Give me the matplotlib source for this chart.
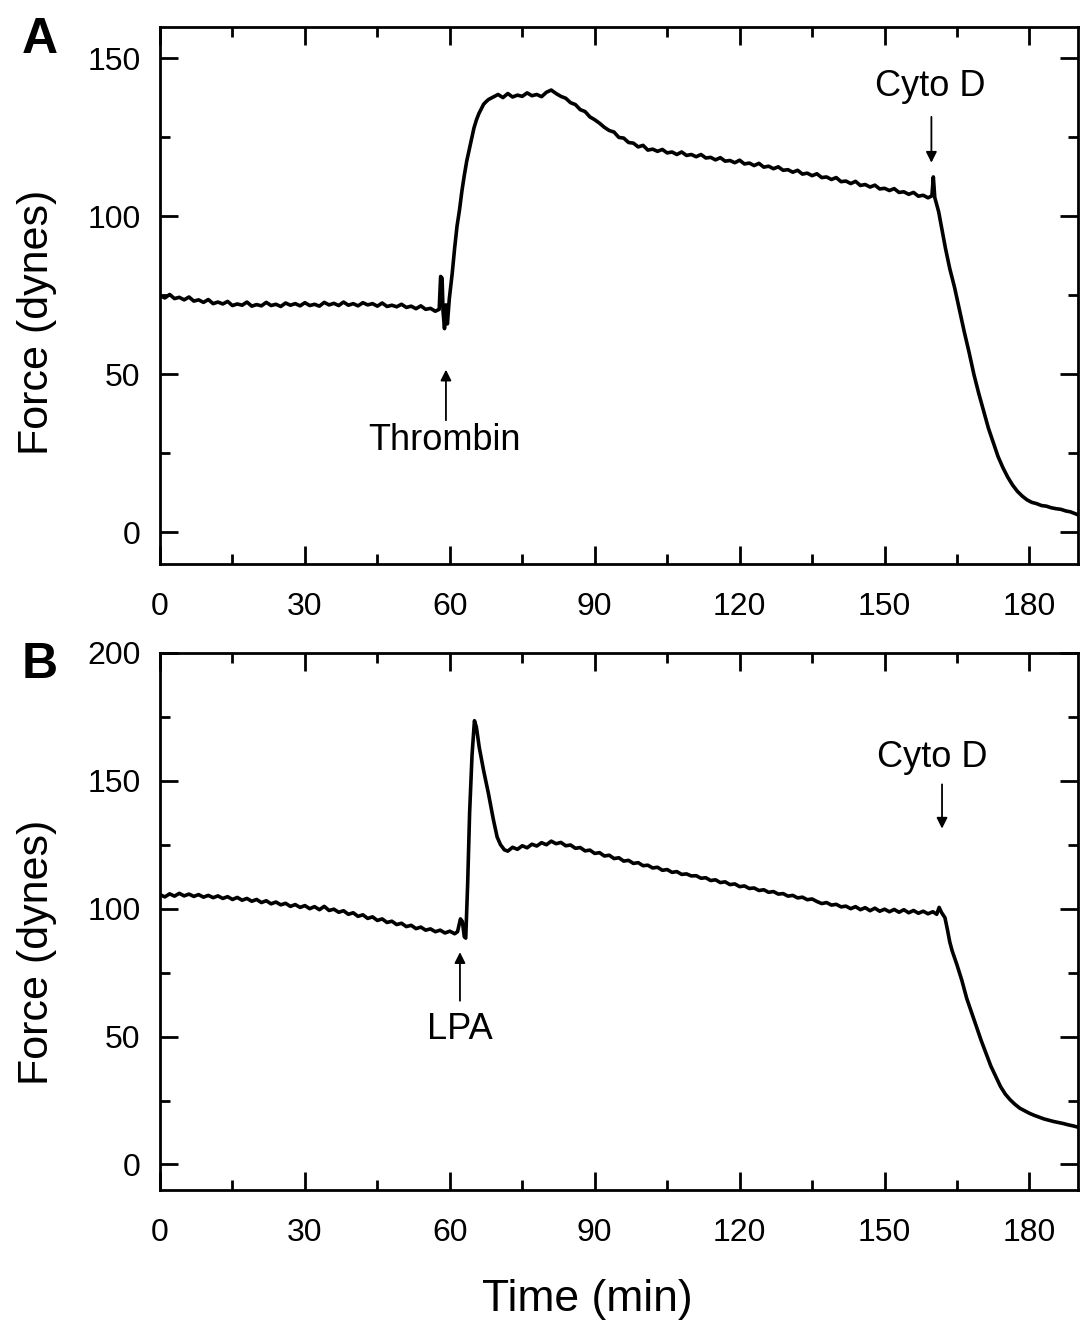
import matplotlib
matplotlib.use("Agg")
import matplotlib.pyplot as plt
from matplotlib.ticker import MultipleLocator

plt.rcParams['font.family'] = ['Liberation Sans', 'DejaVu Sans']

# panel A: thrombin, then cytochalasin D
tA = [0, 1, 2, 3, 4, 5, 6, 7, 8, 9, 10, 11, 12, 13, 14, 15, 16, 17, 18, 19,
      20, 21, 22, 23, 24, 25, 26, 27, 28, 29, 30, 31, 32, 33, 34, 35, 36, 37, 38, 39,
      40, 41, 42, 43, 44, 45, 46, 47, 48, 49, 50, 51, 52, 53, 54, 55, 56, 57,
      57.8, 58.1, 58.4, 58.6, 58.9, 59.2, 59.5, 59.9, 60.5, 61.0, 61.5, 62.0, 62.5,
      63.0, 63.5, 64.0, 64.5, 65.0, 65.5, 66.0, 66.5, 67.0, 67.5, 68.0,
      69, 70, 71, 72, 73, 74, 75, 76, 77, 78, 79, 80, 81, 82, 83, 84, 85, 86, 87, 88,
      89, 90, 91, 92, 93, 94, 95, 96, 97, 98, 99, 100, 101, 102, 103, 104, 105, 106,
      107, 108, 109, 110, 111, 112, 113, 114, 115, 116, 117, 118, 119, 120, 121, 122,
      123, 124, 125, 126, 127, 128, 129, 130, 131, 132, 133, 134, 135, 136, 137, 138,
      139, 140, 141, 142, 143, 144, 145, 146, 147, 148, 149, 150, 151, 152, 153, 154,
      155, 156, 157, 158, 159, 159.8, 160.1, 160.4, 161.2, 162, 162.6, 163.5, 164.5,
      165.5, 166.5, 167.5, 168.5, 169.5, 170.5, 171.5, 172.5, 173.5, 174.5, 175.5,
      176.5, 177.5, 178.5, 179.5, 180.5, 181.5, 182.5, 183.5, 184.5, 185.5, 186.5,
      187.5, 188.5, 189.5, 190]
fA = [75.0, 74.2, 75.3, 74.0, 74.4, 73.6, 74.5, 73.2, 73.6, 72.8, 73.7, 72.4, 72.9,
      72.3, 73.1, 71.8, 72.3, 71.9, 72.9, 71.6, 72.1, 71.7, 72.8, 71.8, 72.2, 71.5,
      72.6, 71.9, 72.4, 71.7, 72.7, 71.8, 72.2, 71.6, 72.8, 72.0, 72.5, 71.8, 72.9,
      71.9, 72.4, 71.7, 72.7, 72.0, 72.4, 71.6, 72.6, 71.5, 71.9, 71.4, 72.2, 71.2,
      71.6, 70.8, 71.7, 70.6, 70.9, 70.0,
      70.6, 81.0, 80.5, 70.0, 64.5, 72.0, 66.0, 74.0, 82, 90, 97, 102, 108,
      113, 117.5, 121, 124.5, 128, 130.5, 132.5, 134, 135.5, 136.3, 137.0,
      137.8, 138.6, 137.6, 138.9, 137.8, 138.4, 138.0, 139.1, 138.2, 138.6, 137.9,
      139.3, 140.0, 138.9, 138.0, 137.4, 136.0, 135.4, 133.8, 133.2,
      131.5, 130.6, 129.5, 128.2, 127.2, 126.7, 125.0, 124.8, 123.4, 123.2, 122.0,
      122.5, 121.0, 121.3, 120.6, 121.2, 120.1, 120.4,
      119.6, 120.4, 119.3, 119.6, 118.9, 119.6, 118.5, 118.7, 117.9, 118.6, 117.5,
      117.7, 117.0, 117.8, 116.6, 116.9,
      116.1, 116.8, 115.6, 115.9, 115.1, 115.7, 114.6, 114.8, 114.0, 114.6, 113.4,
      113.7, 112.9, 113.5, 112.3, 112.5,
      111.7, 112.3, 111.0, 111.2, 110.4, 111.1, 109.8, 110.1, 109.3, 109.9, 108.7,
      108.9, 108.2, 108.8, 107.6, 107.8,
      107.0, 107.6, 106.4, 106.7, 105.9, 106.5, 112.5, 106.0, 101.5, 95, 90, 83.5, 77.5,
      70.5, 63.5, 57, 50, 44, 38.5, 33, 28.5, 24, 20.5, 17.5,
      15, 13, 11.5, 10.3, 9.5, 9.1, 8.5, 8.3, 7.8, 7.5, 7.3,
      6.8, 6.5, 5.9, 5.6]

# panel B: LPA, then cytochalasin D
tB = [0, 1, 2, 3, 4, 5, 6, 7, 8, 9, 10, 11, 12, 13, 14, 15, 16, 17, 18, 19,
      20, 21, 22, 23, 24, 25, 26, 27, 28, 29, 30, 31, 32, 33, 34, 35, 36, 37, 38, 39,
      40, 41, 42, 43, 44, 45, 46, 47, 48, 49, 50, 51, 52, 53, 54, 55, 56, 57, 58, 59,
      60, 61, 61.6, 62.2, 62.6, 63.0, 63.3, 63.7, 64.1, 64.6, 65.1, 65.5, 66.1,
      67, 68, 69, 69.8, 70.5, 71.3, 72, 73, 74, 75, 76, 77, 78, 79, 80, 81, 82, 83,
      84, 85, 86, 87, 88, 89, 90, 91, 92, 93, 94, 95, 96, 97, 98, 99, 100, 101, 102,
      103, 104, 105, 106, 107, 108, 109, 110, 111, 112, 113, 114, 115, 116, 117, 118,
      119, 120, 121, 122, 123, 124, 125, 126, 127, 128, 129, 130, 131, 132, 133, 134,
      135, 136, 137, 138, 139, 140, 141, 142, 143, 144, 145, 146, 147, 148, 149, 150,
      151, 152, 153, 154, 155, 156, 157, 158, 159, 160, 160.8, 161.3, 161.8, 162.5,
      163, 163.5, 164, 165, 166, 167, 168, 169, 170, 171, 172, 173, 174, 175, 176,
      177, 178, 179, 180, 181, 182, 183, 184, 185, 186, 187, 188, 189, 190]
fB = [105.5, 104.6, 105.8, 104.9, 106.0, 105.0, 105.7, 104.8, 105.5, 104.5, 105.2,
      104.3, 105.0, 104.0, 104.7, 103.6, 104.4, 103.3, 104.0, 102.9, 103.6, 102.4,
      103.1, 101.9, 102.6, 101.5, 102.1, 100.9, 101.6, 100.5, 101.2, 100.0, 100.8,
      99.6, 100.9, 99.3, 99.8, 98.6, 99.2, 97.8, 98.4, 97.0, 97.6, 96.2, 96.8, 95.4,
      96.0, 94.6, 95.1, 93.8, 94.3, 93.0, 93.5, 92.2, 92.8, 91.6, 92.1, 91.0, 91.6,
      90.5, 91.2, 90.2, 91.0, 96.0, 95.0, 89.0, 88.5, 110, 137.5, 160, 173.5, 171, 163,
      154, 145, 135, 128, 125, 123, 122.5, 124, 123.2, 124.6, 123.8, 125.2, 124.5,
      125.8, 125.0, 126.4, 125.4, 125.9,
      124.6, 124.9, 123.6, 123.9, 122.6, 122.9, 121.6, 121.9, 120.6, 120.9, 119.6,
      119.9, 118.6, 118.9, 117.7, 118.0, 116.8, 117.0, 115.9,
      116.2, 115.0, 115.3, 114.2, 114.5, 113.4, 113.6, 112.8, 112.9, 111.9, 112.1,
      111.0, 111.3, 110.2, 110.5, 109.4,
      109.7, 108.6, 108.9, 107.9, 108.1, 107.1, 107.4, 106.4, 106.7, 105.7, 105.9,
      104.9, 105.2, 104.2, 104.5, 103.5,
      103.8, 102.8, 102.0, 102.4, 101.4, 101.7, 100.7, 101.0, 100.0, 100.8, 99.6,
      100.4, 99.2, 100.2, 99.0, 99.8,
      98.8, 99.7, 98.6, 99.6, 98.4, 99.3, 98.2, 99.0, 98.0, 98.8, 97.8, 100.5, 98.5, 96.5,
      92, 87, 83.5, 78, 72, 65, 59.5, 54, 48.5, 43.5, 38.5, 34.5, 30.5, 27.5, 25.3,
      23.5, 22, 21, 20, 19.2, 18.5, 17.8, 17.3, 16.8, 16.4, 16.0, 15.5, 15.1, 14.6]

# (label, text x, text y, arrow x, tail y, tip y)
notesA = [("Thrombin", 58.8, 29.2, 59.2, 35.5, 51.5),
          ("Cyto D", 159.4, 141.0, 159.7, 131.5, 117.0)]
notesB = [("LPA", 62.1, 52.7, 62.1, 64.0, 83.0),
          ("Cyto D", 159.9, 159.0, 161.9, 148.6, 131.3)]

fig = plt.figure(figsize=(10.81, 13.23), dpi=100)
axA = fig.add_axes([0.148, 0.5737, 0.849, 0.406])
axB = fig.add_axes([0.148, 0.1005, 0.849, 0.406])


def style(ax, ylim, ymajor):
    ax.set_xlim(0, 190)
    ax.set_ylim(*ylim)
    ax.xaxis.set_major_locator(MultipleLocator(30))
    ax.xaxis.set_minor_locator(MultipleLocator(15))
    ax.yaxis.set_major_locator(MultipleLocator(ymajor))
    ax.yaxis.set_minor_locator(MultipleLocator(25))
    ax.tick_params(which='both', direction='in', top=True, right=True, width=2)
    ax.tick_params(which='major', length=13)
    ax.tick_params(which='minor', length=7)
    ax.tick_params(axis='x', which='major', pad=20, labelsize=23)
    ax.tick_params(axis='y', which='major', pad=14, labelsize=23)
    for s in ax.spines.values():
        s.set_linewidth(2)
    ax.set_ylabel("Force (dynes)", fontsize=31)


def notes(ax, items):
    for txt, tx, ty, ax_x, tail, tip in items:
        ax.text(tx, ty, txt, fontsize=26, ha='center', va='center')
        ax.annotate("", xy=(ax_x, tip), xytext=(ax_x, tail),
                    arrowprops=dict(arrowstyle='-|>', color='black', lw=1.3,
                                    mutation_scale=16, shrinkA=0, shrinkB=0))


axA.plot(tA, fA, color='black', lw=2.6)
style(axA, (-10, 160), 50)
axA.yaxis.set_label_coords(-0.112, 0.449)
notes(axA, notesA)

axB.plot(tB, fB, color='black', lw=2.6)
style(axB, (-10, 200), 50)
axB.yaxis.set_label_coords(-0.112, 0.443)
notes(axB, notesB)

fig.text(40 / 1081, 1 - 40 / 1323, "A", fontsize=36, fontweight='bold', ha='center', va='center')
fig.text(40 / 1081, 1 - 665 / 1323, "B", fontsize=36, fontweight='bold', ha='center', va='center')
fig.text(587 / 1081, 1 - 1300 / 1323, "Time (min)", fontsize=32, ha='center', va='center')

fig.savefig("out.png", dpi=100)
